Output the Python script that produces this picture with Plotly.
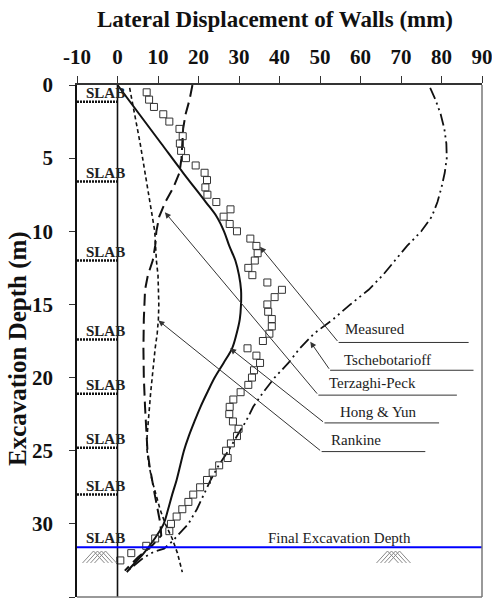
import plotly.graph_objects as go

# ---------------- data ----------------
measured_depth = [0.5, 1.0, 1.5, 2.0, 2.5, 3.0, 3.5, 4.0, 4.5, 5.0, 5.5, 6.0, 6.5, 7.0, 7.5, 8.0,
                  8.5, 9.0, 9.5, 10.0, 10.5, 11.0, 11.5, 12.0, 12.5, 13.0, 13.5, 14.0, 14.5, 15.0,
                  15.5, 16.0, 16.5, 17.0, 17.5, 18.0, 18.5, 19.0, 19.5, 20.0, 20.5, 21.0, 21.5,
                  22.0, 22.5, 23.0, 23.5, 24.0, 24.5, 25.0, 25.5, 26.0, 26.5, 27.0, 27.5, 28.0,
                  28.5, 29.0, 29.5, 30.0, 30.5, 31.0, 31.5, 32.0, 32.5]
measured_disp = [7.2, 7.8, 9.0, 11.3, 12.8, 15.3, 16.1, 15.4, 15.7, 16.9, 19.3, 21.5, 22.1, 21.7,
                 22.2, 24.4, 27.9, 26.2, 27.7, 29.5, 32.8, 34.3, 34.6, 33.9, 32.3, 33.3, 37.0,
                 40.6, 38.8, 37.0, 37.2, 38.1, 38.1, 37.5, 35.9, 32.1, 34.3, 35.2, 33.7, 33.2,
                 32.3, 30.4, 28.6, 27.7, 27.6, 28.5, 29.9, 29.5, 28.0, 26.8, 27.2, 25.1, 23.5,
                 22.1, 20.4, 18.7, 17.5, 16.0, 14.6, 13.2, 12.8, 9.3, 7.1, 3.4, 0.7]

tscheb_depth = [0.2, 1, 2, 3, 4, 5, 6, 7, 8, 9, 10, 11, 12, 13, 14, 15, 16, 17, 18, 19, 20, 21,
                22, 23, 24, 25, 26, 27, 28, 29, 30, 30.6, 31.2, 31.7, 31.9, 32.3, 33.2]
tscheb_disp = [77.2, 78.5, 79.8, 80.7, 81.2, 81.3, 80.8, 80.0, 79.0, 77.6, 75.0, 71.5, 68.5,
               65.5, 62.0, 57.5, 53.3, 48.5, 45.0, 42.2, 38.8, 36.0, 33.5, 31.7, 29.5, 27.4,
               25.0, 23.0, 21.3, 19.6, 17.5, 15.5, 13.5, 11.5, 9.0, 6.5, 2.5]

terzaghi_depth = [0, 1, 2, 3, 4, 5, 6, 7, 8, 9, 10, 11, 12, 13, 14, 16, 18, 20, 22, 24, 25, 26,
                  27, 28, 29, 30, 30.8, 31.5, 32.3, 33.2]
terzaghi_disp = [18.5, 17.8, 16.8, 16.2, 16.0, 15.8, 15.3, 13.8, 11.8, 10.3, 9.6, 9.3, 8.7, 7.5,
                 6.8, 6.5, 6.4, 6.5, 6.8, 7.1, 7.4, 7.9, 8.5, 9.2, 9.9, 10.6, 10.8, 8.5, 5.0, 1.8]

hongyun_depth = [0, 2, 4, 6, 8, 9, 10, 11, 12, 13, 14, 15, 16, 17, 18, 19, 20, 21, 22, 23, 24,
                 25, 26, 27, 28, 29, 30, 31, 32, 33, 33.3]
hongyun_disp = [0.0, 5.4, 10.8, 16.2, 21.8, 24.5, 26.3, 27.6, 29.1, 30.0, 30.5, 30.5, 30.2, 29.4,
                28.3, 26.2, 24.0, 22.2, 20.5, 19.0, 17.6, 16.4, 15.5, 14.6, 13.5, 12.5, 11.4,
                9.2, 6.5, 3.2, 2.3]

rankine_depth = [0.2, 2, 4, 6, 8, 10, 11, 12, 13, 14, 15, 16, 17, 18, 19, 20, 21, 22, 23, 24, 25,
                 26, 27, 28, 29, 30, 31, 32, 33.3]
rankine_disp = [3.0, 4.3, 5.6, 6.8, 8.0, 9.2, 9.4, 9.6, 10.0, 10.1, 10.2, 10.1, 9.8, 9.3, 8.9,
                8.6, 8.2, 7.9, 7.6, 7.3, 7.3, 7.8, 8.5, 9.5, 10.5, 11.8, 13.5, 14.8, 16.0]

slab_depths = [1.15, 6.6, 12.0, 17.4, 21.1, 24.8, 28.0]
final_depth = 31.6
x_ticks = [-10, 0, 10, 20, 30, 40, 50, 60, 70, 80, 90]
x_tick_text = ["-10", "0", "10", "20", "30", "40", "50", "60", "70", "80", "90"]
y_ticks = [0, 5, 10, 15, 20, 25, 30, 35]

series_labels = ["Measured", "Tschebotarioff", "Terzaghi-Peck", "Hong & Yun", "Rankine"]

# ---------------- figure ----------------
fig = go.Figure()
BLK = "#111111"

fig.add_trace(go.Scatter(x=tscheb_disp, y=tscheb_depth, mode="lines",
                         line=dict(color=BLK, width=1.8, dash="12px,4px,2px,4px,2px,4px"),
                         name=series_labels[1]))
fig.add_trace(go.Scatter(x=terzaghi_disp, y=terzaghi_depth, mode="lines",
                         line=dict(color=BLK, width=2, dash="12px,6px"), name=series_labels[2]))
fig.add_trace(go.Scatter(x=hongyun_disp, y=hongyun_depth, mode="lines",
                         line=dict(color=BLK, width=2), name=series_labels[3], line_shape="spline"))
fig.add_trace(go.Scatter(x=rankine_disp, y=rankine_depth, mode="lines",
                         line=dict(color=BLK, width=1.6, dash="4px,3px"), name=series_labels[4]))
fig.add_trace(go.Scatter(x=measured_disp, y=measured_depth, mode="markers",
                         marker=dict(symbol="square-open", size=7, color="#333333",
                                     line=dict(width=1, color="#333333")),
                         name=series_labels[0]))

shapes = []
# wall
shapes.append(dict(type="line", xref="x", yref="y", x0=0, x1=0, y0=0, y1=35,
                   line=dict(color=BLK, width=1.6)))
# slabs
for d in slab_depths:
    shapes.append(dict(type="line", xref="x", yref="y", x0=-10, x1=0, y0=d, y1=d,
                       line=dict(color=BLK, width=2.5, dash="2px,1px")))
# final excavation line
shapes.append(dict(type="line", xref="x", yref="y", x0=-10, x1=90, y0=final_depth, y1=final_depth,
                   line=dict(color="#0000ff", width=2)))
# frame right / bottom
shapes.append(dict(type="line", xref="paper", yref="paper", x0=1, x1=1, y0=0, y1=1,
                   line=dict(color="#777777", width=1.5)))
shapes.append(dict(type="line", xref="paper", yref="paper", x0=0, x1=1, y0=0, y1=0,
                   line=dict(color="#777777", width=1.5)))

# ground symbols (nested chevrons)
PX = 100 / 405.0   # mm per pixel
PY = 35 / 512.0    # m per pixel
def ground(cx_px, top_px):
    out = []
    for off in (-6, -2, 2, 6):
        ax_ = (cx_px + off - 119) * PX
        ay_ = (top_px - 85) * PY
        bl = (cx_px + off - 11 - 119) * PX
        br = (cx_px + off + 11 - 119) * PX
        by = (top_px + 12 - 85) * PY
        out.append(dict(type="path", xref="x", yref="y",
                        path=f"M {bl},{by} L {ax_},{ay_} L {br},{by}",
                        line=dict(color="#888888", width=1)))
    return out
shapes += ground(101, 551)
shapes += ground(395, 551)

# labels with leader lines
label_pos = {  # text center, underline (x0, x1, y), arrow head (x, y)
    "Measured":       ((63.5, 16.7), (54.6, 86.7, 17.6), (35.2, 11.05)),
    "Tschebotarioff": ((66.7, 18.8), (52.5, 87.9, 19.5), (47.6, 17.55)),
    "Terzaghi-Peck":  ((63.0, 20.4), (49.6, 83.8, 21.2), (11.7, 8.7)),
    "Hong & Yun":     ((64.4, 22.35), (51.1, 79.4, 23.1), (27.8, 18.0)),
    "Rankine":        ((58.8, 24.3), (50.4, 76.0, 25.06), (10.1, 16.1)),
}
annotations = []
for name in series_labels:
    (tx, ty), (ux0, ux1, uy), (hx, hy) = label_pos[name]
    shapes.append(dict(type="line", xref="x", yref="y", x0=ux0, x1=ux1, y0=uy, y1=uy,
                       line=dict(color="#333333", width=1)))
    annotations.append(dict(x=hx, y=hy, ax=ux0, ay=uy, axref="x", ayref="y", xref="x", yref="y",
                            text="", showarrow=True, arrowhead=2, arrowsize=1.2, arrowwidth=1,
                            arrowcolor="#333333"))
    annotations.append(dict(x=tx, y=ty, xref="x", yref="y", text=name, showarrow=False,
                            font=dict(family="Liberation Serif", size=15, color="#222222")))

annotations.append(dict(x=54.8, y=31.0, xref="x", yref="y", text="Final Excavation Depth",
                        showarrow=False,
                        font=dict(family="Liberation Serif", size=15, color="#222222")))

for d in slab_depths + [final_depth]:
    annotations.append(dict(x=-3.0, y=d, xref="x", yref="y", text="SLAB", showarrow=False,
                            yanchor="bottom", yshift=-1,
                            font=dict(family="Liberation Serif", size=15, color="#222222",
                                      weight="bold")))

annotations.append(dict(x=0.489, y=1.127, xref="paper", yref="paper",
                        xanchor="center", yanchor="middle",
                        text="Lateral Displacement of Walls (mm)", showarrow=False,
                        font=dict(family="Liberation Serif", size=23, color="#111111",
                                  weight="bold")))
annotations.append(dict(x=-0.146, y=0.486, xref="paper", yref="paper",
                        xanchor="center", yanchor="middle",
                        text="Excavation Depth (m)", showarrow=False, textangle=-90,
                        font=dict(family="Liberation Serif", size=25, color="#111111",
                                  weight="bold")))

fig.update_layout(
    width=492, height=608,
    margin=dict(l=77, r=10, t=85, b=11, autoexpand=False),
    paper_bgcolor="white", plot_bgcolor="white",
    showlegend=False,
    shapes=shapes, annotations=annotations,
    xaxis=dict(range=[-10, 90], side="top", tickvals=x_ticks, ticktext=x_tick_text,
               showgrid=False, zeroline=False, ticklabeloverflow="allow", automargin=False,
               showline=True, linecolor="#333333", linewidth=1.5,
               ticks="outside", ticklen=7, tickcolor="#333333", ticklabelstandoff=4,
               tickfont=dict(family="Liberation Serif", size=21, color="#111111", weight="bold")),
    yaxis=dict(range=[35, 0], tickvals=y_ticks, showgrid=False, zeroline=False, automargin=False,
               showline=True, linecolor="#111111", linewidth=1.5,
               ticks="outside", ticklen=6, tickcolor="#333333", ticklabelstandoff=12,
               tickfont=dict(family="Liberation Serif", size=21, color="#111111", weight="bold")),
)

fig.write_html("out.html")
